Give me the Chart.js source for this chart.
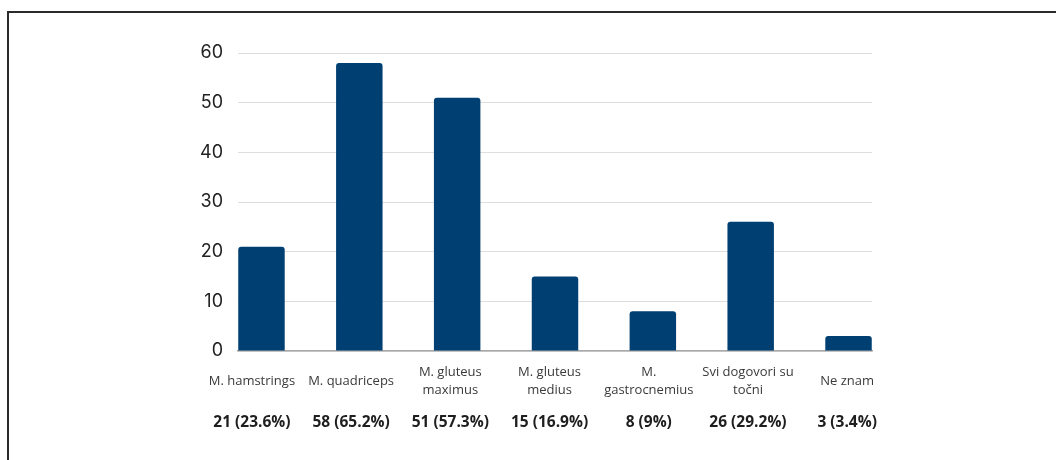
<!DOCTYPE html>
<html>
<head>
<meta charset="utf-8">
<script src="https://cdn.jsdelivr.net/npm/chart.js@4.4.1/dist/chart.umd.min.js"></script>
<style>
  html, body { margin: 0; padding: 0; background: #fff; }
  #wrap { position: relative; width: 1056px; height: 460px; overflow: hidden; }
  #frame { position: absolute; left: 7px; top: 11px; width: 1100px; height: 500px;
           border-left: 2px solid #2b2b2b; border-top: 2px solid #2b2b2b; }
  canvas { position: absolute; left: 0; top: 0; }
</style>
</head>
<body>
<div id="wrap">
  <div id="frame"></div>
  <canvas id="myChart" width="1056" height="460"></canvas>
</div>
<script>
// categories and values
const categories = [
  ['M. hamstrings'],
  ['M. quadriceps'],
  ['M. gluteus', 'maximus'],
  ['M. gluteus', 'medius'],
  ['M.', 'gastrocnemius'],
  ['Svi dogovori su', 'točni'],
  ['Ne znam']
];
const counts = [21, 58, 51, 15, 8, 26, 3];
const percents = ['23.6%', '65.2%', '57.3%', '16.9%', '9%', '29.2%', '3.4%'];
const yTicks = [0, 10, 20, 30, 40, 50, 60];

let ctx = document.getElementById('myChart');

let points = counts.map((v, i) => ({ x: i, y: v }));
let catTicks = () => categories.map((c, i) => ({ value: i }));

new Chart(ctx, {
    type: 'bar',
    data: {
        datasets: [{
            data: points,
            backgroundColor: '#003f72',
            borderRadius: 3,
            borderSkipped: 'bottom',
            categoryPercentage: 1,
            barPercentage: 0.475,
            xAxisID: 'xb',
            yAxisID: 'y'
        }]
    },
    options: {
        responsive: false,
        animation: false,
        events: [],
        layout: { padding: { left: 178, right: 184, top: 53, bottom: 30 } },
        plugins: { legend: { display: false }, tooltip: { enabled: false } },
        scales: {
            // axis the bars sit on (not drawn)
            xb: {
                type: 'linear',
                position: 'bottom',
                display: false,
                offset: false,
                min: -0.24,
                max: 6.24
            },
            x: {
                type: 'linear',
                position: 'bottom',
                offset: false,
                min: -0.14,
                max: 6.25,
                afterBuildTicks: (s) => { s.ticks = catTicks(); },
                afterFit: (s) => { s.height = 48; },
                grid: { display: false, drawTicks: false },
                border: { display: true, color: '#a8a8a8', width: 1.5 },
                ticks: {
                    autoSkip: false,
                    maxRotation: 0,
                    padding: 12,
                    color: '#3a3a3a',
                    // single-line labels get a taller line so they sit centred like the two-line ones
                    font: (c) => ({
                        family: 'Open Sans',
                        size: 13,
                        lineHeight: categories[c.index] && categories[c.index].length === 1 ? 2.8 : 1.4
                    }),
                    callback: (v) => categories[v]
                }
            },
            x2: {
                type: 'linear',
                position: 'bottom',
                offset: false,
                min: -0.14,
                max: 6.25,
                afterBuildTicks: (s) => { s.ticks = catTicks(); },
                afterFit: (s) => { s.height = 31; },
                grid: { display: false, drawTicks: false },
                border: { display: false },
                ticks: {
                    autoSkip: false,
                    maxRotation: 0,
                    padding: 14,
                    color: '#1e1e1e',
                    font: { family: 'Open Sans', size: 15.5, weight: 'bold', lineHeight: 1.2 },
                    callback: (v) => counts[v] + ' (' + percents[v] + ')'
                }
            },
            y: {
                min: 0,
                max: 60,
                afterBuildTicks: (s) => { s.ticks = yTicks.map(v => ({ value: v })); },
                afterFit: (s) => { s.width = 60; },
                grid: { color: '#dedede', lineWidth: 1, drawTicks: false },
                border: { display: false },
                ticks: {
                    padding: 15,
                    color: '#222',
                    font: { family: 'Inter', size: 18 }
                }
            }
        }
    }
});
</script>
</body>
</html>
